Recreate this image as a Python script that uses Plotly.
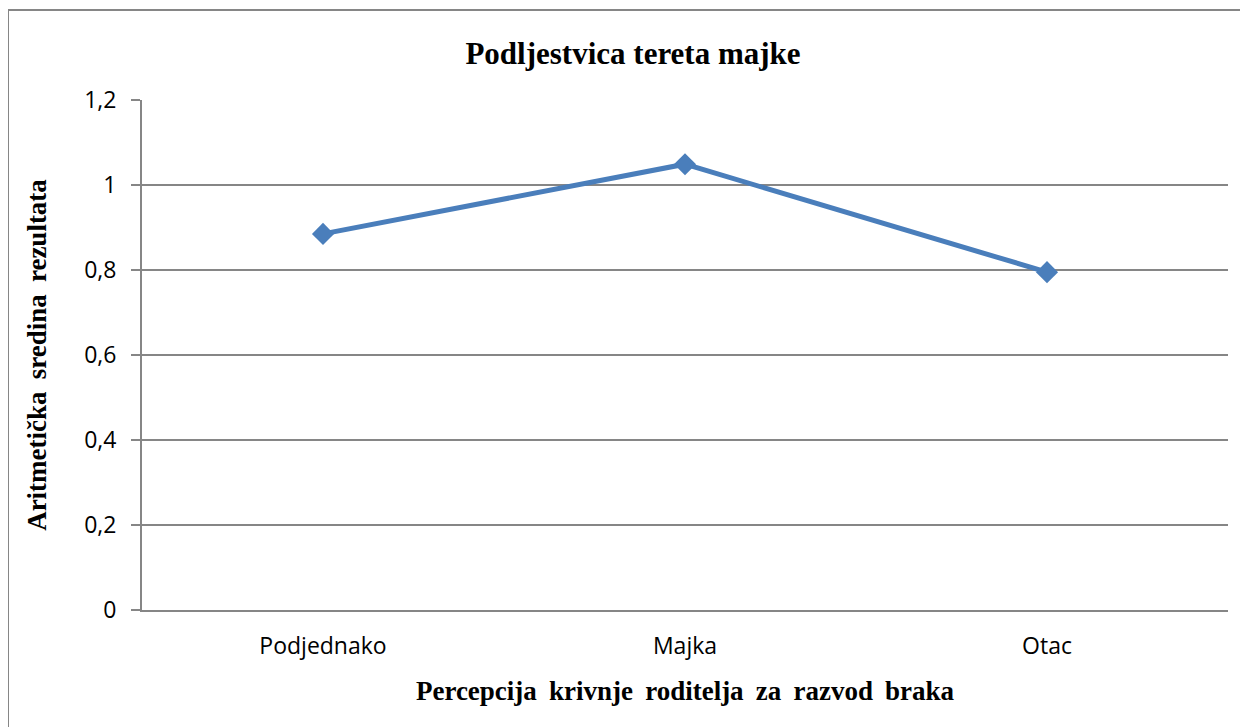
import plotly.graph_objects as go

categories = ["Podjednako", "Majka", "Otac"]
values = [0.885, 1.049, 0.795]
y_ticks = [0, 0.2, 0.4, 0.6, 0.8, 1.0, 1.2]
y_tick_labels = ["0", "0,2", "0,4", "0,6", "0,8", "1", "1,2"]

OFF = 8  # default body margin of the page
W, H = 1248 - OFF, 727 - OFF
L, T = 142 - OFF, 100 - OFF
pw, ph = 1086, 510
R = W - L - pw
B = H - T - ph

SP = " \u2009"
xtitle = SP.join("Percepcija krivnje roditelja za razvod braka".split(" "))
ytitle = SP.join("Aritmetička sredina rezultata".split(" "))

fig = go.Figure()
fig.add_trace(go.Scatter(
    x=categories, y=values, mode="lines+markers",
    line=dict(color="#4a7ebb", width=5),
    marker=dict(symbol="diamond", size=17, color="#4a7ebb"),
    showlegend=False, hoverinfo="skip",
))

grid = "#868686"
fig.update_layout(
    width=W, height=H,
    margin=dict(l=L, r=R, t=T, b=B),
    paper_bgcolor="white", plot_bgcolor="white",
    title=dict(text="<b>Podljestvica tereta majke</b>", x=(633 - 142) / pw, xref="paper",
               xanchor="center", y=1 - (53 - OFF) / H, yanchor="middle",
               font=dict(family="Liberation Serif", size=31, color="black")),
    xaxis=dict(type="category", range=[-0.5, 2.5], showgrid=False,
               showline=True, linecolor=grid, linewidth=2, ticks="",
               ticklabelstandoff=14,
               tickfont=dict(family="Open Sans", size=23, color="black"),
               title=dict(text="<b>" + xtitle + "</b>",
                          font=dict(family="Liberation Serif", size=27, color="black"),
                          standoff=22)),
    yaxis=dict(range=[0, 1.2], tickvals=y_ticks, ticktext=y_tick_labels,
               showgrid=True, gridcolor=grid, gridwidth=1.5,
               showline=True, linecolor=grid, linewidth=2,
               ticks="outside", ticklen=9, tickcolor=grid, tickwidth=1.5,
               zeroline=False, ticklabelstandoff=10,
               tickfont=dict(family="Open Sans", size=23, color="black"),
               title=dict(text="<b>" + ytitle + "</b>",
                          font=dict(family="Liberation Serif", size=27, color="black"),
                          standoff=30)),
)

# outer chart border (left and top visible)
bx = (8 - 142) / pw
by = (610 - 10) / ph
fig.add_shape(type="line", xref="paper", yref="paper", x0=bx, x1=bx, y0=by, y1=-0.5,
              line=dict(color="#868686", width=2))
fig.add_shape(type="line", xref="paper", yref="paper", x0=bx, x1=1.2, y0=by, y1=by,
              line=dict(color="#868686", width=2))

fig.write_html("out.html")
